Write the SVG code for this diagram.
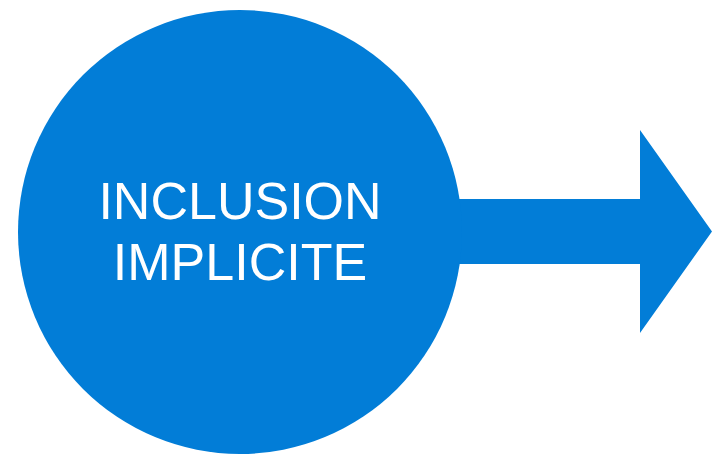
<svg xmlns="http://www.w3.org/2000/svg" width="712" height="454" viewBox="0 0 712 454">
<style>
.shape{fill:#027DD7}
.lbl{fill:#FFFFFF;font-family:"Liberation Sans",Arial,sans-serif;font-size:52px;text-anchor:middle}
</style>
<rect width="712" height="454" fill="#FFFFFF"/>
<g id="connectors">
<path class="shape" d="M440,199 H640 V130 L712,231.5 L640,333 V264 H440 Z"/>
</g>
<g id="node-inclusion">
<circle class="shape" cx="240" cy="232" r="222"/>
<text class="lbl" x="240" y="219">INCLUSION</text>
<text class="lbl" x="240" y="280">IMPLICITE</text>
</g>
</svg>
